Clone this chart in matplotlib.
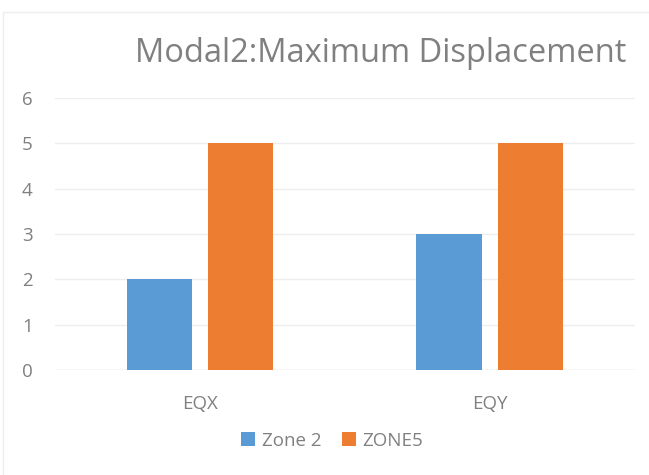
import numpy as np
import matplotlib.pyplot as plt
from matplotlib.patches import Rectangle

# chart data
categories = ["EQX", "EQY"]
zone2 = [2, 3]
zone5 = [5, 5]
series_names = ["Zone 2", "ZONE5"]

plt.rcParams['font.family'] = ['Open Sans', 'DejaVu Sans']
text_col = "#808080"

fig = plt.figure(figsize=(6.49, 4.75), dpi=100)
ax = fig.add_axes([0.0847, 0.221, 0.893, 0.573])

x = np.arange(len(categories))
w = 0.225
ax.bar(x - 0.14, zone2, w, color="#5B9BD5", label=series_names[0], zorder=3)
ax.bar(x + 0.14, zone5, w, color="#ED7D31", label=series_names[1], zorder=3)

ax.set_xlim(-0.5, 1.5)
ax.set_ylim(0, 6)
ax.set_yticks(range(0, 7))
ax.set_xticks(x)
ax.set_xticklabels(categories)
ax.grid(axis="y", color="#eeeeee", linewidth=1, zorder=0)
for s in ax.spines.values():
    s.set_visible(False)
ax.axhline(0, color="#e4e4e4", linewidth=1, zorder=2)
ax.tick_params(length=0, labelsize=13.5, labelcolor=text_col)
ax.tick_params(axis="x", pad=18)
ax.tick_params(axis="y", pad=16)

fig.text(0.586, 0.888, "Modal2:Maximum Displacement", ha="center", va="center",
         fontsize=23.5, color=text_col)

fig.legend(loc="center", bbox_to_anchor=(0.512, 0.072), ncol=2, frameon=False,
           fontsize=13.5, labelcolor=text_col, handlelength=0.75, handleheight=0.75,
           handletextpad=0.35, columnspacing=1.1)

fig.patches.append(Rectangle((0.005, -0.01), 1.0, 0.985, transform=fig.transFigure,
                             fill=False, edgecolor="#eeeeee", linewidth=1))

fig.savefig("out.png", dpi=100)
